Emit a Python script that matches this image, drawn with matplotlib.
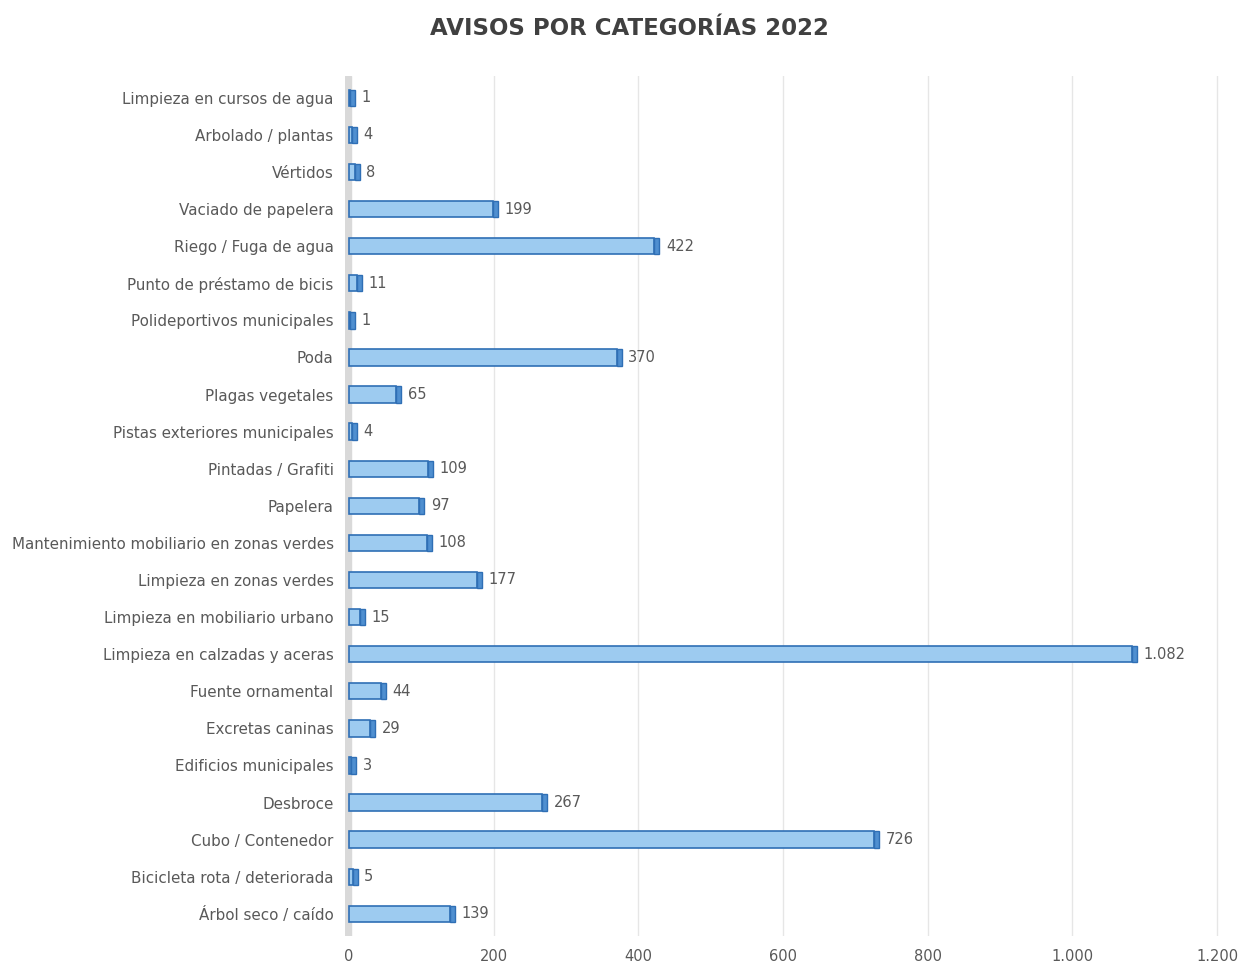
import matplotlib.pyplot as plt
import matplotlib.ticker as mticker

# categories top to bottom as in the chart
categorias = [
    "Limpieza en cursos de agua",
    "Arbolado / plantas",
    "Vértidos",
    "Vaciado de papelera",
    "Riego / Fuga de agua",
    "Punto de préstamo de bicis",
    "Polideportivos municipales",
    "Poda",
    "Plagas vegetales",
    "Pistas exteriores municipales",
    "Pintadas / Grafiti",
    "Papelera",
    "Mantenimiento mobiliario en zonas verdes",
    "Limpieza en zonas verdes",
    "Limpieza en mobiliario urbano",
    "Limpieza en calzadas y aceras",
    "Fuente ornamental",
    "Excretas caninas",
    "Edificios municipales",
    "Desbroce",
    "Cubo / Contenedor",
    "Bicicleta rota / deteriorada",
    "Árbol seco / caído",
]
avisos = [1, 4, 8, 199, 422, 11, 1, 370, 65, 4, 109, 97, 108, 177, 15,
          1082, 44, 29, 3, 267, 726, 5, 139]
xticks = [0, 200, 400, 600, 800, 1000, 1200]


def miles(v, pos=None):
    return f"{int(v):,}".replace(",", ".")


gris = "#595959"
fig = plt.figure(figsize=(12.58, 9.69), dpi=100)
ax = fig.add_axes([0.274, 0.034, 0.6963, 0.888])

pos = list(range(len(categorias)))[::-1]
alto = 0.44
lado = 7  # depth of the fake 3D side face, in data units

ax.axvspan(-6, 3, color="#d9d9d9", zorder=1)
ax.barh(pos, avisos, height=alto, color="#9dcbf0", edgecolor="#2f6fb5",
        linewidth=1.2, zorder=3)
ax.barh(pos, [lado] * len(avisos), left=avisos, height=alto,
        color="#4f8fd0", edgecolor="#2f6fb5", linewidth=1.0, zorder=3)

for p, v in zip(pos, avisos):
    ax.text(v + lado + 9, p, miles(v), va="center", ha="left",
            fontsize=10.5, color=gris, zorder=4)

ax.set_xlim(-6, 1205)
ax.set_ylim(-0.6, len(categorias) - 0.4)
ax.set_xticks(xticks)
ax.xaxis.set_major_formatter(mticker.FuncFormatter(miles))
ax.set_yticks(pos)
ax.set_yticklabels(categorias)
ax.tick_params(axis="both", length=0, colors=gris, labelsize=10.5)
ax.tick_params(axis="y", labelsize=10.9, pad=8)
ax.tick_params(axis="x", pad=9)
ax.grid(axis="x", color="#e6e6e6", linewidth=1.0, zorder=0)
ax.set_axisbelow(True)
for s in ax.spines.values():
    s.set_visible(False)

fig.text(0.5, 0.971, "AVISOS POR CATEGORÍAS 2022", ha="center", va="center",
         fontsize=16.5, fontweight="bold", color="#404040")

fig.savefig("out.png", dpi=100)
